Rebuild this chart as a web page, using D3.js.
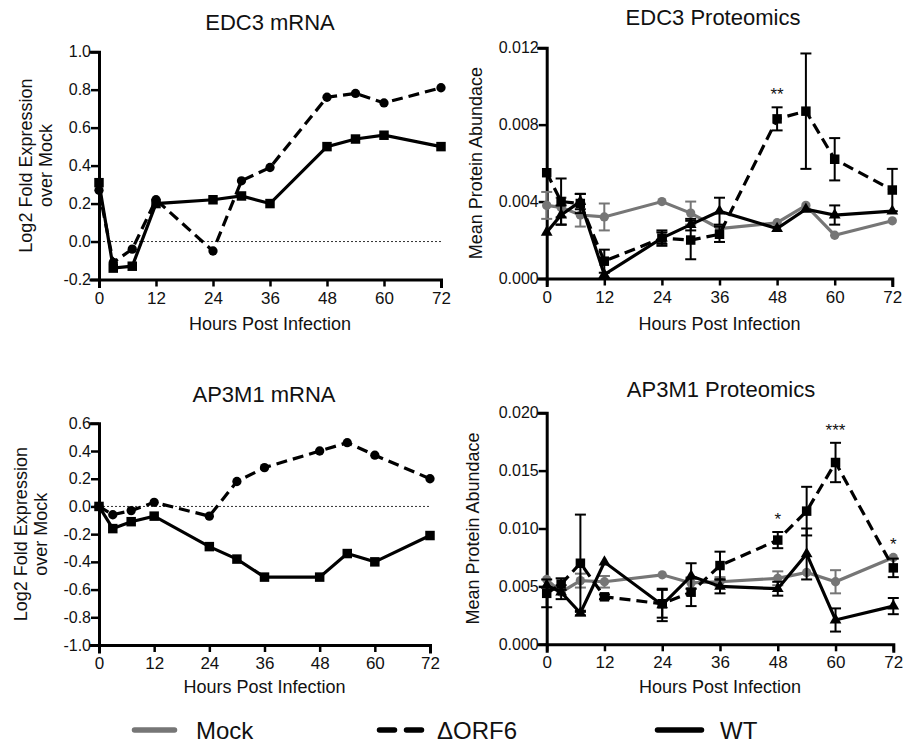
<!DOCTYPE html>
<html>
<head>
<meta charset="utf-8">
<script src="https://cdn.jsdelivr.net/npm/d3@7"></script>
<style>
  html, body { margin: 0; padding: 0; background: #fff; }
  svg text { font-family: "Liberation Sans", Arial, Helvetica, sans-serif; fill: #111; }
</style>
</head>
<body>
<svg id="fig" width="904" height="743"></svg>
<script>
// ---- sampling times (hours post infection) and axis ticks ----
const hours = [0, 3, 7, 12, 24, 30, 36, 48, 54, 60, 72];
const hourTicks = [0, 12, 24, 36, 48, 60, 72];

// ---- EDC3 mRNA: log2 fold expression over mock ----
const edc3MrnaDorf6 = [0.27, -0.11, -0.04, 0.22, -0.05, 0.32, 0.39, 0.76, 0.78, 0.73, 0.81];
const edc3MrnaWT    = [0.31, -0.14, -0.13, 0.20, 0.22, 0.24, 0.20, 0.50, 0.54, 0.56, 0.50];
const edc3MrnaTicks = [-0.2, 0.0, 0.2, 0.4, 0.6, 0.8, 1.0];

// ---- AP3M1 mRNA: log2 fold expression over mock ----
const ap3m1MrnaDorf6 = [0.00, -0.06, -0.03, 0.03, -0.07, 0.18, 0.28, 0.40, 0.46, 0.37, 0.20];
const ap3m1MrnaWT    = [0.00, -0.16, -0.11, -0.07, -0.29, -0.38, -0.51, -0.51, -0.34, -0.40, -0.21];
const ap3m1MrnaTicks = [-1.0, -0.8, -0.6, -0.4, -0.2, 0.0, 0.2, 0.4, 0.6];

// ---- EDC3 proteomics: mean protein abundance with error ----
const edc3ProtMock     = [0.0038, 0.0037, 0.0033, 0.0032, 0.0040, 0.0034, 0.0026, 0.0029, 0.0038, 0.00225, 0.0030];
const edc3ProtMockErr  = [0.0007, 0.0005, 0.0006, 0.0007, 0, 0.0006, 0, 0, 0, 0, 0];
const edc3ProtDorf6    = [0.0055, 0.0040, 0.0039, 0.0009, 0.0021, 0.0020, 0.0023, 0.0083, 0.0087, 0.0062, 0.0046];
const edc3ProtDorf6Err = [0, 0.0012, 0.0005, 0.0006, 0.0004, 0.0010, 0.0004, 0.0006, 0.0030, 0.0011, 0.0011];
const edc3ProtWT       = [0.0024, 0.0033, 0.0040, 0.0002, 0.0021, 0.0028, 0.0035, 0.0026, 0.0036, 0.0033, 0.0035];
const edc3ProtWTErr    = [0, 0.0005, 0.0004, 0, 0.0003, 0.0003, 0.0007, 0, 0, 0.0005, 0];
const edc3ProtTicks    = [0.000, 0.004, 0.008, 0.012];
const edc3ProtSig      = [{ hour: 48, mark: "**" }];

// ---- AP3M1 proteomics: mean protein abundance with error ----
const ap3m1ProtMock     = [0.0056, 0.0045, 0.0055, 0.0054, 0.0060, 0.0053, 0.0054, 0.0057, 0.0062, 0.0054, 0.0075];
const ap3m1ProtMockErr  = [0, 0, 0.0006, 0.0005, 0, 0.0005, 0.0004, 0.0006, 0, 0.0010, 0];
const ap3m1ProtDorf6    = [0.0044, 0.0052, 0.0070, 0.0041, 0.0035, 0.0045, 0.0068, 0.0090, 0.0115, 0.0157, 0.0066];
const ap3m1ProtDorf6Err = [0.0012, 0.0005, 0.0042, 0.0002, 0.0012, 0.0012, 0.0012, 0.0007, 0.0021, 0.0017, 0.0008];
const ap3m1ProtWT       = [0.0051, 0.0045, 0.0027, 0.0071, 0.0034, 0.0059, 0.0050, 0.0048, 0.0078, 0.0021, 0.0033];
const ap3m1ProtWTErr    = [0, 0.0006, 0.0002, 0, 0.0014, 0.0011, 0.0006, 0.0006, 0.0022, 0.0010, 0.0007];
const ap3m1ProtTicks    = [0.000, 0.005, 0.010, 0.015, 0.020];
const ap3m1ProtSig      = [{ hour: 48, mark: "*" }, { hour: 60, mark: "***" }, { hour: 72, mark: "*" }];

// ---- legend ----
const legendNames = ["Mock", "\u0394ORF6", "WT"];

// ---- styles ----
const GRAY = "#767676";
const BLACK = "#000";
const DASH = "11,6";

const svg = d3.select("#fig");

function drawPanel(cfg) {
  const g = svg.append("g");
  const x = d3.scaleLinear().domain([0, 72]).range([cfg.left, cfg.right]);
  const y = d3.scaleLinear().domain(cfg.domain).range([cfg.bottom, cfg.top]);

  // title
  g.append("text")
    .attr("x", cfg.titleX).attr("y", cfg.titleY)
    .attr("text-anchor", "middle")
    .style("font-size", "22px")
    .text(cfg.title);

  // zero reference line
  if (cfg.zeroLine) {
    g.append("line")
      .attr("x1", x(0)).attr("x2", x(72))
      .attr("y1", y(0)).attr("y2", y(0))
      .attr("stroke", "#333").attr("stroke-width", 1)
      .attr("stroke-dasharray", "2,2");
  }

  // axes
  const yAxis = d3.axisLeft(y).tickValues(cfg.ticks).tickSizeOuter(0).tickSize(8).tickPadding(0)
    .tickFormat(cfg.fmt);
  const xAxis = d3.axisBottom(x).tickValues(hourTicks).tickSizeOuter(0).tickSize(7).tickPadding(5)
    .tickFormat(d => String(d));

  const ya = g.append("g").attr("transform", `translate(${cfg.left},0)`).call(yAxis);
  const xa = g.append("g").attr("transform", `translate(0,${cfg.bottom})`).call(xAxis);
  [ya, xa].forEach(a => {
    a.select(".domain").attr("stroke", BLACK).attr("stroke-width", 3).attr("stroke-linecap", "square");
    a.selectAll(".tick line").attr("stroke", BLACK).attr("stroke-width", 2.5);
    a.selectAll(".tick text").attr("fill", "#111")
      .style("font-family", "\"Liberation Sans\", Arial, sans-serif");
  });
  ya.selectAll(".tick text").style("font-size", "16px");
  xa.selectAll(".tick text").style("font-size", "17px");

  // axis titles
  g.append("text")
    .attr("x", (cfg.left + cfg.right) / 2).attr("y", cfg.xTitleY)
    .attr("text-anchor", "middle").style("font-size", "18px")
    .text("Hours Post Infection");
  const yc = (cfg.top + cfg.bottom) / 2;
  cfg.yTitle.forEach((line, i) => {
    g.append("text")
      .attr("transform", `translate(${cfg.yTitleX[i]},${yc}) rotate(-90)`)
      .attr("text-anchor", "middle").style("font-size", "18px")
      .text(line);
  });

  // series: error bars, connecting line, symbols
  cfg.series.forEach(s => {
    const pts = hours.map((h, i) => ({ h, v: s.values[i], e: s.errors ? s.errors[i] : 0 }));
    const sg = g.append("g");

    pts.filter(p => p.e > 0).forEach(p => {
      const cx = x(p.h), y1 = y(p.v + p.e), y2 = y(p.v - p.e);
      sg.append("line").attr("x1", cx).attr("x2", cx).attr("y1", y1).attr("y2", y2)
        .attr("stroke", s.color).attr("stroke-width", 2);
      [y1, y2].forEach(yy => sg.append("line")
        .attr("x1", cx - 5.5).attr("x2", cx + 5.5).attr("y1", yy).attr("y2", yy)
        .attr("stroke", s.color).attr("stroke-width", 2));
    });

    sg.append("path")
      .datum(pts)
      .attr("fill", "none").attr("stroke", s.color).attr("stroke-width", 3.2)
      .attr("stroke-linejoin", "miter")
      .attr("stroke-dasharray", s.dashed ? DASH : null)
      .attr("d", d3.line().x(p => x(p.h)).y(p => y(p.v)));

    const sym = s.marker === "square" ? d3.symbolSquare
              : s.marker === "triangle" ? d3.symbolTriangle : d3.symbolCircle;
    const size = s.marker === "square" ? 90 : s.marker === "triangle" ? 60 : 68;
    sg.selectAll("path.mk").data(pts).enter().append("path")
      .attr("class", "mk")
      .attr("transform", p => `translate(${x(p.h)},${y(p.v)})`)
      .attr("d", d3.symbol().type(sym).size(size))
      .attr("fill", s.color);
  });

  // significance marks above the highest error bar at that hour
  (cfg.sig || []).forEach(m => {
    const i = hours.indexOf(m.hour);
    const top = d3.max(cfg.series, s => s.values[i] + (s.errors ? s.errors[i] : 0));
    g.append("text")
      .attr("x", x(m.hour)).attr("y", y(top) - 7)
      .attr("text-anchor", "middle").style("font-size", "17px")
      .text(m.mark);
  });
}

const fmt1 = d => d.toFixed(1);
const fmt3 = d => d.toFixed(3);

drawPanel({
  title: "EDC3 mRNA", titleX: 270, titleY: 30,
  left: 99, right: 441, top: 51.7, bottom: 279.5,
  domain: [-0.2, 1.0], ticks: edc3MrnaTicks, fmt: fmt1, zeroLine: true,
  xTitleY: 330, yTitle: ["Log2 Fold Expression", "over Mock"], yTitleX: [32, 52],
  series: [
    { values: edc3MrnaDorf6, color: BLACK, dashed: true, marker: "circle" },
    { values: edc3MrnaWT, color: BLACK, dashed: false, marker: "square" }
  ]
});

drawPanel({
  title: "EDC3 Proteomics", titleX: 713, titleY: 25,
  left: 546.7, right: 892.3, top: 47.7, bottom: 278.5,
  domain: [0, 0.012], ticks: edc3ProtTicks, fmt: fmt3,
  xTitleY: 330, yTitle: ["Mean Protein Abundace"], yTitleX: [482],
  series: [
    { values: edc3ProtMock, errors: edc3ProtMockErr, color: GRAY, dashed: false, marker: "circle" },
    { values: edc3ProtDorf6, errors: edc3ProtDorf6Err, color: BLACK, dashed: true, marker: "square" },
    { values: edc3ProtWT, errors: edc3ProtWTErr, color: BLACK, dashed: false, marker: "triangle" }
  ],
  sig: edc3ProtSig
});

drawPanel({
  title: "AP3M1 mRNA", titleX: 264, titleY: 402,
  left: 99, right: 430, top: 423.3, bottom: 645,
  domain: [-1.0, 0.6], ticks: ap3m1MrnaTicks, fmt: fmt1, zeroLine: true,
  xTitleY: 693, yTitle: ["Log2 Fold Expression", "over Mock"], yTitleX: [27, 47],
  series: [
    { values: ap3m1MrnaDorf6, color: BLACK, dashed: true, marker: "circle" },
    { values: ap3m1MrnaWT, color: BLACK, dashed: false, marker: "square" }
  ]
});

drawPanel({
  title: "AP3M1 Proteomics", titleX: 721, titleY: 397,
  left: 546.7, right: 893.3, top: 412.7, bottom: 644.3,
  domain: [0, 0.02], ticks: ap3m1ProtTicks, fmt: fmt3,
  xTitleY: 693, yTitle: ["Mean Protein Abundace"], yTitleX: [479],
  series: [
    { values: ap3m1ProtMock, errors: ap3m1ProtMockErr, color: GRAY, dashed: false, marker: "circle" },
    { values: ap3m1ProtDorf6, errors: ap3m1ProtDorf6Err, color: BLACK, dashed: true, marker: "square" },
    { values: ap3m1ProtWT, errors: ap3m1ProtWTErr, color: BLACK, dashed: false, marker: "triangle" }
  ],
  sig: ap3m1ProtSig
});

// ---- shared legend ----
const legendItems = [
  { name: legendNames[0], color: GRAY, dashed: false, x1: 134.5, x2: 174.5, tx: 196 },
  { name: legendNames[1], color: BLACK, dashed: true, x1: 379.5, x2: 423.5, tx: 437 },
  { name: legendNames[2], color: BLACK, dashed: false, x1: 657.5, x2: 701.5, tx: 720 }
];
const lg = svg.append("g");
legendItems.forEach(it => {
  lg.append("line")
    .attr("x1", it.x1).attr("x2", it.x2).attr("y1", 730).attr("y2", 730)
    .attr("stroke", it.color).attr("stroke-width", 5.5).attr("stroke-linecap", "round")
    .attr("stroke-dasharray", it.dashed ? "15,12" : null);
  lg.append("text")
    .attr("x", it.tx).attr("y", 738.5)
    .style("font-size", "24px")
    .text(it.name);
});
</script>
</body>
</html>
